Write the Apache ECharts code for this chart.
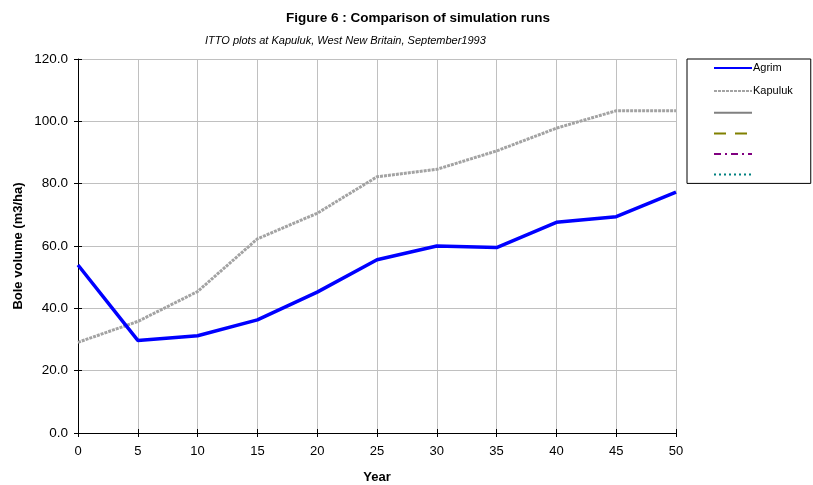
<!DOCTYPE html>
<html>
<head>
<meta charset="utf-8">
<script src="https://cdn.jsdelivr.net/npm/echarts@6/dist/echarts.min.js"></script>
<style>
  html, body { margin: 0; padding: 0; background: #fff; }
  #chart { width: 813px; height: 485px; }
</style>
</head>
<body>
<div id="chart"></div>
<script>
// Simulation years and bole volume (m3/ha) per run
const years = [0, 5, 10, 15, 20, 25, 30, 35, 40, 45, 50];
const agrim = [53.9, 29.7, 31.2, 36.3, 45.2, 55.6, 60.0, 59.5, 67.6, 69.4, 77.3];
const kapuluk = [29.1, 35.8, 45.4, 62.3, 70.5, 82.2, 84.6, 90.5, 97.8, 103.4, 103.4];
const yTicks = [0, 20, 40, 60, 80, 100, 120];
const xTicks = years;

const FONT = '"Liberation Sans", Arial, sans-serif';
const pairs = vals => years.map((y, i) => [y, vals[i]]);

const chart = echarts.init(document.getElementById('chart'), null, { renderer: 'canvas' });

const baseX = {
  type: 'value', min: xTicks[0], max: xTicks[xTicks.length - 1], interval: 5
};
const baseY = {
  type: 'value', min: yTicks[0], max: yTicks[yTicks.length - 1], interval: 20
};

chart.setOption({
  animation: false,
  backgroundColor: '#ffffff',
  title: [
    {
      text: 'Figure 6 : Comparison of simulation runs',
      left: 413, top: 6, textAlign: 'center',
      textStyle: { fontFamily: FONT, fontSize: 13.5, fontWeight: 'bold', color: '#000' }
    },
    {
      text: 'ITTO plots at Kapuluk, West New Britain, September1993',
      left: 200, top: 30,
      textStyle: { fontFamily: FONT, fontSize: 11, fontStyle: 'italic', fontWeight: 'normal', color: '#000' }
    }
  ],
  grid: { left: 78, right: 137, top: 59, bottom: 52, containLabel: false, outerBoundsMode: 'none' },
  legend: {
    orient: 'vertical',
    left: 687, top: 59,
    padding: [3, 18, 4, 26],
    borderColor: '#000', borderWidth: 1,
    itemWidth: 38, itemHeight: 12, itemGap: 11,
    itemStyle: { opacity: 0 },
    textStyle: { fontFamily: FONT, fontSize: 11, color: '#000', lineHeight: 12, padding: [0, 0, 0, -4] },
    formatter: name => name.trim() ? name : '',
    data: ['Agrim', 'Kapuluk', ' ', '  ', '   ', '    ']
  },
  xAxis: [
    Object.assign({}, baseX, {
      name: 'Year', nameLocation: 'middle', nameGap: 38, nameMoveOverlap: false,
      nameTextStyle: { fontFamily: FONT, fontSize: 13, fontWeight: 'bold', color: '#000' },
      axisLine: { onZero: false, lineStyle: { color: '#000', width: 1 } },
      axisTick: { show: true, length: 4, lineStyle: { color: '#000' } },
      axisLabel: { fontFamily: FONT, fontSize: 13, color: '#000', margin: 12 },
      splitLine: { show: true, lineStyle: { color: '#c0c0c0', width: 1 } }
    }),
    Object.assign({}, baseX, {
      position: 'bottom',
      axisLine: { show: false },
      axisTick: { show: true, inside: true, length: 4, lineStyle: { color: '#000' } },
      axisLabel: { show: false },
      splitLine: { show: false }
    })
  ],
  yAxis: [
    Object.assign({}, baseY, {
      name: 'Bole volume (m3/ha)', nameLocation: 'middle', nameGap: 53, nameRotate: 90,
      nameMoveOverlap: false,
      nameTextStyle: { fontFamily: FONT, fontSize: 13, fontWeight: 'bold', color: '#000' },
      axisLine: { show: true, onZero: false, lineStyle: { color: '#000', width: 1 } },
      axisTick: { show: true, length: 4, lineStyle: { color: '#000' } },
      axisLabel: { fontFamily: FONT, fontSize: 13.5, color: '#000', margin: 10, formatter: v => v.toFixed(1) },
      splitLine: { show: true, lineStyle: { color: '#c0c0c0', width: 1 } }
    }),
    Object.assign({}, baseY, {
      position: 'left',
      axisLine: { show: false },
      axisTick: { show: true, inside: true, length: 4, lineStyle: { color: '#000' } },
      axisLabel: { show: false },
      splitLine: { show: false }
    })
  ],
  series: [
    {
      name: 'Agrim', type: 'line', data: pairs(agrim),
      symbol: 'none', z: 5,
      lineStyle: { color: '#0000ff', width: 3.5 },
      itemStyle: { color: '#0000ff' }
    },
    {
      name: 'Kapuluk', type: 'line', data: pairs(kapuluk),
      symbol: 'none', z: 4,
      lineStyle: { color: '#a3a3a3', width: 3, type: [3, 1] },
      itemStyle: { color: '#a3a3a3' }
    },
    {
      name: ' ', type: 'line', data: [], symbol: 'none',
      lineStyle: { color: '#808080', width: 2.5 }, itemStyle: { color: '#808080' }
    },
    {
      name: '  ', type: 'line', data: [], symbol: 'none',
      lineStyle: { color: '#808000', width: 2.5, type: [12, 9] }, itemStyle: { color: '#808000' }
    },
    {
      name: '   ', type: 'line', data: [], symbol: 'none',
      lineStyle: { color: '#800080', width: 2.5, type: [7, 4, 2, 4] }, itemStyle: { color: '#800080' }
    },
    {
      name: '    ', type: 'line', data: [], symbol: 'none',
      lineStyle: { color: '#008080', width: 2.5, type: [2, 3] }, itemStyle: { color: '#008080' }
    }
  ]
});
</script>
</body>
</html>
